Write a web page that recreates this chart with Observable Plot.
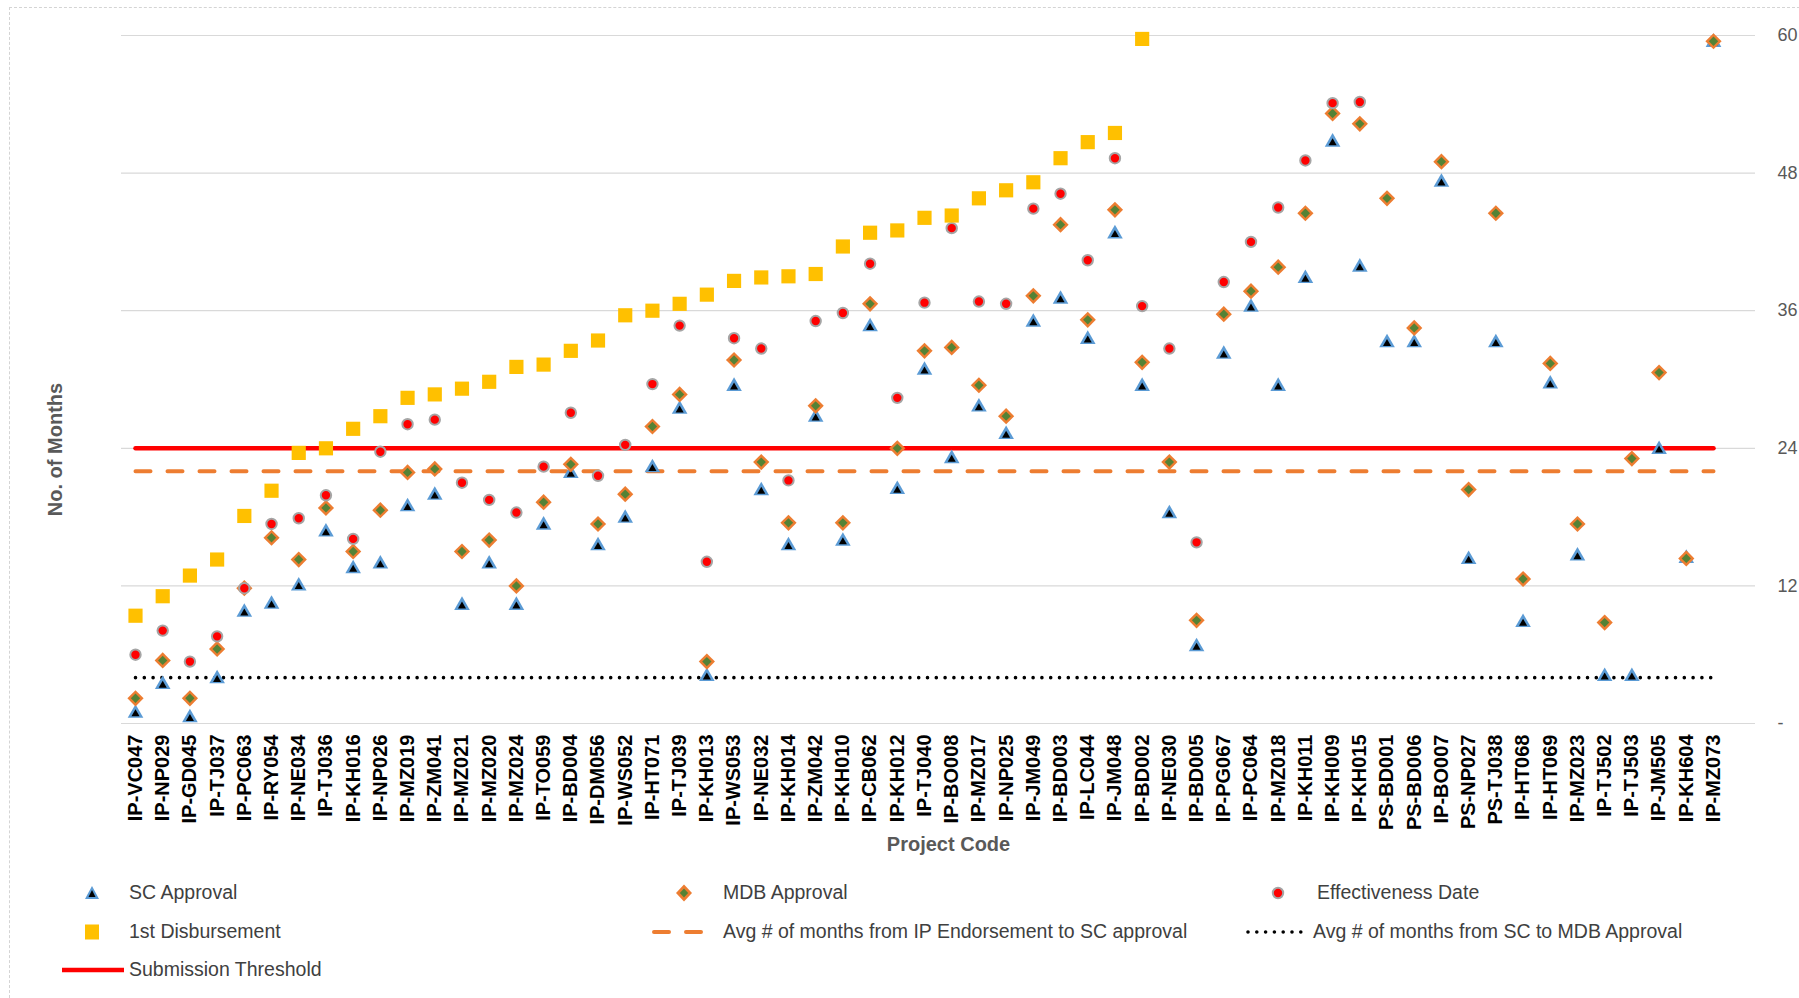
<!DOCTYPE html>
<html>
<head>
<meta charset="utf-8">
<script src="https://cdn.jsdelivr.net/npm/d3@7"></script>
<script src="https://cdn.jsdelivr.net/npm/@observablehq/plot@0.6"></script>
<style>
  body { margin: 0; background: #fff; }
  #wrap { position: relative; width: 1799px; height: 998px; overflow: hidden; font-family: "Liberation Sans", Arial, sans-serif; }
  #frame { position: absolute; left: 9px; top: 7px; width: 1800px; height: 1000px; border-top: 1px dashed #d4d4d4; border-left: 1px dashed #d4d4d4; }
  #chart { position: absolute; left: 0; top: 0; }
  #legend { position: absolute; left: 0; top: 860px; width: 1799px; height: 138px; }
  .sym { position: absolute; transform: translate(-50%, -50%); overflow: visible; }
  .lt { position: absolute; font-size: 19.5px; color: #404040; line-height: 1; white-space: nowrap; transform: translateY(-50%); }
</style>
</head>
<body>
<div id="wrap">
  <div id="frame"></div>
  <div id="chart"></div>
  <div id="legend"></div>
</div>
<script>
// ---------- data ----------
const codes = [
  "IP-VC047","IP-NP029","IP-GD045","IP-TJ037","IP-PC063","IP-RY054","IP-NE034","IP-TJ036","IP-KH016","IP-NP026",
  "IP-MZ019","IP-ZM041","IP-MZ021","IP-MZ020","IP-MZ024","IP-TO059","IP-BD004","IP-DM056","IP-WS052","IP-HT071",
  "IP-TJ039","IP-KH013","IP-WS053","IP-NE032","IP-KH014","IP-ZM042","IP-KH010","IP-CB062","IP-KH012","IP-TJ040",
  "IP-BO008","IP-MZ017","IP-NP025","IP-JM049","IP-BD003","IP-LC044","IP-JM048","IP-BD002","IP-NE030","IP-BD005",
  "IP-PG067","IP-PC064","IP-MZ018","IP-KH011","IP-KH009","IP-KH015","PS-BD001","PS-BD006","IP-BO007","PS-NP027",
  "PS-TJ038","IP-HT068","IP-HT069","IP-MZ023","IP-TJ502","IP-TJ503","IP-JM505","IP-KH604","IP-MZ073"
];
const scApproval = [
  0.9, 3.4, 0.5, 3.9, 9.7, 10.4, 12.0, 16.7, 13.5, 13.9,
  18.9, 19.9, 10.3, 13.9, 10.3, 17.3, 21.8, 15.5, 17.9, 22.3,
  27.4, 4.1, 29.4, 20.3, 15.5, 26.7, 15.9, 34.6, 20.4, 30.8,
  23.1, 27.6, 25.2, 35.0, 37.0, 33.5, 42.7, 29.4, 18.3, 6.7,
  32.2, 36.3, 29.4, 38.8, 50.7, 39.8, 33.2, 33.2, 47.2, 14.3,
  33.2, 8.8, 29.6, 14.6, 4.1, 4.1, 23.9, 14.4, 59.4
];
const mdbApproval = [
  2.2, 5.5, 2.2, 6.5, 11.8, 16.2, 14.3, 18.8, 15.0, 18.6,
  21.9, 22.2, 15.0, 16.0, 12.0, 19.3, 22.6, 17.4, 20.0, 25.9,
  28.7, 5.4, 31.7, 22.8, 17.5, 27.7, 17.5, 36.6, 24.0, 32.5,
  32.8, 29.5, 26.8, 37.3, 43.5, 35.2, 44.8, 31.5, 22.8, 9.0,
  35.7, 37.7, 39.8, 44.5, 53.2, 52.3, 45.8, 34.5, 49.0, 20.4,
  44.5, 12.6, 31.4, 17.4, 8.8, 23.1, 30.6, 14.4, 59.5
];
const effectivenessDate = [
  6.0, 8.1, 5.4, 7.6, 11.8, 17.4, 17.9, 19.9, 16.1, 23.7,
  26.1, 26.5, 21.0, 19.5, 18.4, 22.4, 27.1, 21.6, 24.3, 29.6,
  34.7, 14.1, 33.6, 32.7, 21.2, 35.1, 35.8, 40.1, 28.4, 36.7,
  43.2, 36.8, 36.6, 44.9, 46.2, 40.4, 49.3, 36.4, 32.7, 15.8,
  38.5, 42.0, 45.0, 49.1, 54.1, 54.2, null, null, null, null,
  null, null, null, null, null, null, null, null, null
];
const firstDisbursement = [
  9.4, 11.1, 12.9, 14.3, 18.1, 20.3, 23.6, 24.0, 25.7, 26.8,
  28.4, 28.7, 29.2, 29.8, 31.1, 31.3, 32.5, 33.4, 35.6, 36.0,
  36.6, 37.4, 38.6, 38.9, 39.0, 39.2, 41.6, 42.8, 43.0, 44.1,
  44.3, 45.8, 46.5, 47.2, 49.3, 50.7, 51.5, 59.7, null, null,
  null, null, null, null, null, null, null, null, null, null,
  null, null, null, null, null, null, null, null, null
];
const submissionThreshold = 24;
const avgEndorseToSC = 22;
const avgSCtoMDB = 4;
const yTicks = [0, 12, 24, 36, 48, 60];

// ---------- colours ----------
const C = {
  blue: "#5B9BD5", orange: "#ED7D31", green: "#548235", red: "#FF0000",
  ring: "#A5A5A5", yellow: "#FFC000", grid: "#D9D9D9"
};

const rows = codes.map((code, i) => ({
  code, sc: scApproval[i], mdb: mdbApproval[i], eff: effectivenessDate[i], disb: firstDisbursement[i]
}));
const has = k => rows.filter(d => d[k] != null);

const chart = Plot.plot({
  width: 1799,
  height: 860,
  marginTop: 35,
  marginBottom: 137,
  marginLeft: 121,
  marginRight: 44,
  style: { fontFamily: "Liberation Sans, Arial, sans-serif", background: "transparent", overflow: "visible" },
  x: { type: "point", domain: codes, range: [135, 1713], padding: 0, round: false, label: null },
  y: { domain: [0, 60], label: null },
  marks: [
    Plot.gridY({ ticks: yTicks, stroke: C.grid, strokeOpacity: 1, strokeWidth: 1.2 }),
    Plot.axisY({ ticks: yTicks, anchor: "right", tickSize: 0, tickPadding: 22, label: null, textAnchor: "start",
                 tickFormat: d => d === 0 ? "-" : String(d), fontSize: 18, color: "#595959" }),
    Plot.axisX({ anchor: "bottom", tickSize: 0, tickPadding: 11, tickRotate: -90, label: null,
                 fontSize: 20, fontWeight: "bold", color: "#000" }),
    Plot.text(["Project Code"], { text: d => d, frameAnchor: "bottom", dx: 10, dy: 127, textAnchor: "middle",
                                  fontSize: 20, fontWeight: "bold", fill: "#595959" }),
    Plot.text(["No. of Months"], { text: d => d, frameAnchor: "left", dx: -66, dy: 70, rotate: -90,
                                   textAnchor: "middle", fontSize: 20, fontWeight: "bold", fill: "#595959" }),
    // reference lines
    Plot.lineY(codes, { x: d => d, y: () => avgSCtoMDB, stroke: "#000", strokeWidth: 3.6,
                        strokeDasharray: "0,8.8", strokeLinecap: "round" }),
    Plot.lineY(codes, { x: d => d, y: () => avgEndorseToSC, stroke: C.orange, strokeWidth: 4,
                        strokeDasharray: "15,17", strokeLinecap: "round" }),
    Plot.lineY(codes, { x: d => d, y: () => submissionThreshold, stroke: C.red, strokeWidth: 4.5 }),
    // SC Approval
    Plot.dot(has("sc"), { x: "code", y: "sc", symbol: "triangle", r: 5.8, fill: C.blue }),
    Plot.dot(has("sc"), { x: "code", y: "sc", symbol: "triangle", r: 3, fill: "#000", dy: 0.8 }),
    // MDB Approval
    Plot.dot(has("mdb"), { x: "code", y: "mdb", symbol: "diamond2", r: 7.3, fill: C.orange }),
    Plot.dot(has("mdb"), { x: "code", y: "mdb", symbol: "diamond2", r: 4.2, fill: C.green }),
    // Effectiveness Date
    Plot.dot(has("eff"), { x: "code", y: "eff", symbol: "circle", r: 5.2, fill: C.red, stroke: C.ring, strokeWidth: 2 }),
    // 1st Disbursement
    Plot.dot(has("disb"), { x: "code", y: "disb", symbol: "square", r: 8, fill: C.yellow })
  ]
});
document.getElementById("chart").appendChild(chart);

// ---------- legend ----------
const legendItems = [
  { label: "SC Approval", kind: "tri", sx: 92, tx: 129, y: 33 },
  { label: "MDB Approval", kind: "dia", sx: 684, tx: 723, y: 33 },
  { label: "Effectiveness Date", kind: "cir", sx: 1278, tx: 1317, y: 33 },
  { label: "1st Disbursement", kind: "sq", sx: 92, tx: 129, y: 72 },
  { label: "Avg # of months from IP Endorsement to SC approval", kind: "dash", sx: 678, tx: 723, y: 72 },
  { label: "Avg # of months from SC to MDB Approval", kind: "dot", sx: 1277, tx: 1313, y: 72 },
  { label: "Submission Threshold", kind: "line", sx: 93, tx: 129, y: 110 }
];
const symSvg = {
  tri: `<svg width="16" height="16" viewBox="-8 -8 16 16"><path d="M0,-7L7,6H-7Z" fill="${C.blue}"/><path d="M0,-3L3.5,4H-3.5Z" fill="#000"/></svg>`,
  dia: `<svg width="18" height="18" viewBox="-9 -9 18 18"><path d="M0,-8.5L8,0L0,8.5L-8,0Z" fill="${C.orange}"/><path d="M0,-4.5L4.2,0L0,4.5L-4.2,0Z" fill="${C.green}"/></svg>`,
  cir: `<svg width="16" height="16" viewBox="-8 -8 16 16"><circle r="5.2" fill="${C.red}" stroke="${C.ring}" stroke-width="2"/></svg>`,
  sq: `<svg width="16" height="16" viewBox="-8 -8 16 16"><rect x="-7" y="-7.5" width="14" height="15" fill="${C.yellow}"/></svg>`,
  dash: `<svg width="54" height="8" viewBox="0 -4 54 8"><line x1="3" x2="51" y1="0" y2="0" stroke="${C.orange}" stroke-width="4" stroke-dasharray="15,17" stroke-linecap="round"/></svg>`,
  dot: `<svg width="62" height="6" viewBox="0 -3 62 6"><line x1="2" x2="60" y1="0" y2="0" stroke="#000" stroke-width="3.6" stroke-dasharray="0,8.8" stroke-linecap="round"/></svg>`,
  line: `<svg width="62" height="6" viewBox="0 -3 62 6"><line x1="0" x2="62" y1="0" y2="0" stroke="${C.red}" stroke-width="4.5"/></svg>`
};
const legend = document.getElementById("legend");
for (const it of legendItems) {
  const s = document.createElement("div");
  s.className = "sym";
  s.style.left = it.sx + "px";
  s.style.top = it.y + "px";
  s.style.lineHeight = "0";
  s.innerHTML = symSvg[it.kind];
  legend.appendChild(s);
  const t = document.createElement("div");
  t.className = "lt";
  t.style.left = it.tx + "px";
  t.style.top = it.y + "px";
  t.textContent = it.label;
  legend.appendChild(t);
}
</script>
</body>
</html>
